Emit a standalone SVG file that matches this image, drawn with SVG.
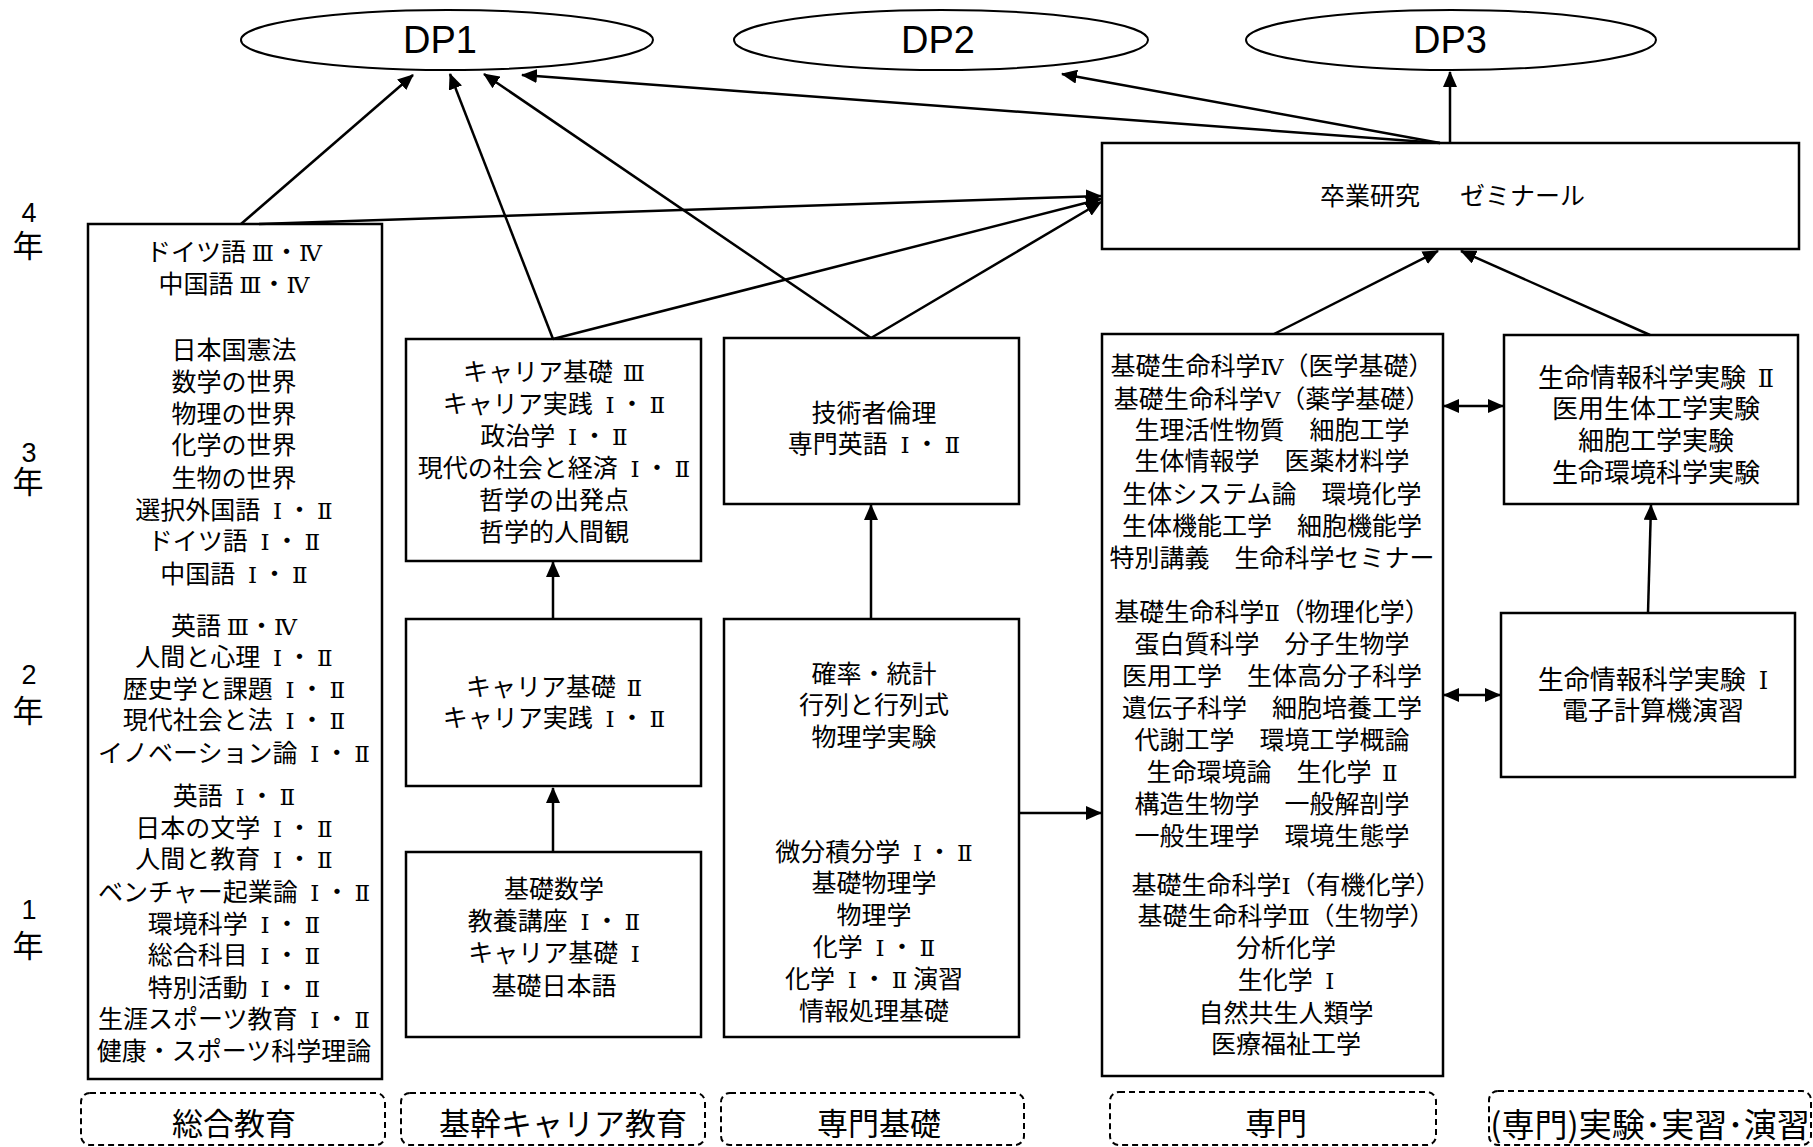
<svg xmlns="http://www.w3.org/2000/svg" width="1813" height="1147" viewBox="0 0 1813 1147">
<style>
text{font-family:"Noto Sans CJK JP","Noto Sans",sans-serif;fill:#000;text-anchor:middle}
.b{font-size:25px}
.j{font-size:26px}
.r{font-family:"DejaVu Serif","Liberation Serif","Noto Sans CJK JP",serif;font-size:0.92em}
.dp{font-family:"Liberation Sans",Arial,sans-serif;font-size:38px}
.yr{font-family:"Liberation Sans",Arial,sans-serif;font-size:27px}
.nen{font-size:31px}
.lab{font-size:31px}
.box{fill:#fff;stroke:#000;stroke-width:2.5}
.ell{fill:#fff;stroke:#000;stroke-width:2}
.dash{fill:none;stroke:#000;stroke-width:2;stroke-dasharray:6 4}
.c line{stroke:#000;stroke-width:2.5;fill:none}
</style>
<defs>
<marker id="ah" markerUnits="userSpaceOnUse" markerWidth="16" markerHeight="14" refX="15" refY="7" orient="auto-start-reverse"><path d="M0,0 L16,7 L0,14 z" fill="#000"/></marker>
</defs>
<rect width="1813" height="1147" fill="#fff"/>

<g id="years">
<text><tspan class="yr" x="29" y="222">4</tspan><tspan class="nen" x="28" y="257">年</tspan></text>
<text><tspan class="yr" x="29" y="462">3</tspan><tspan class="nen" x="28" y="493">年</tspan></text>
<text><tspan class="yr" x="29" y="684">2</tspan><tspan class="nen" x="28" y="722">年</tspan></text>
<text><tspan class="yr" x="29" y="919">1</tspan><tspan class="nen" x="28" y="957">年</tspan></text>
</g>

<g id="dp1"><ellipse class="ell" cx="447" cy="40" rx="206" ry="30"/><text class="dp" x="440" y="53">DP1</text></g>
<g id="dp2"><ellipse class="ell" cx="941" cy="40" rx="207" ry="30"/><text class="dp" x="938" y="53">DP2</text></g>
<g id="dp3"><ellipse class="ell" cx="1451" cy="40" rx="205" ry="30"/><text class="dp" x="1450" y="53">DP3</text></g>

<g id="sotsugyo"><rect class="box" x="1102" y="143" width="697" height="106"/>
<text style="font-size:25px;text-anchor:start" x="1320" y="205">卒業研究</text>
<text style="font-size:25px;text-anchor:start" x="1460" y="205">ゼミナール</text></g>

<g id="sogo"><rect class="box" x="88" y="224" width="294" height="855"/>
<text class="b" x="234" y="261">ドイツ語 <tspan class="r">Ⅲ</tspan>・<tspan class="r">Ⅳ</tspan></text>
<text class="b" x="234" y="293">中国語 <tspan class="r">Ⅲ</tspan>・<tspan class="r">Ⅳ</tspan></text>
<text class="b" x="234" y="359">日本国憲法</text>
<text class="b" x="234" y="391">数学の世界</text>
<text class="b" x="234" y="423">物理の世界</text>
<text class="b" x="234" y="454">化学の世界</text>
<text class="b" x="234" y="487">生物の世界</text>
<text class="b" x="234" y="519">選択外国語 <tspan class="r" dx="7">Ⅰ</tspan><tspan dx="5">・</tspan><tspan class="r" dx="5">Ⅱ</tspan></text>
<text class="b" x="234" y="550">ドイツ語 <tspan class="r" dx="7">Ⅰ</tspan><tspan dx="5">・</tspan><tspan class="r" dx="5">Ⅱ</tspan></text>
<text class="b" x="234" y="583">中国語 <tspan class="r" dx="7">Ⅰ</tspan><tspan dx="5">・</tspan><tspan class="r" dx="5">Ⅱ</tspan></text>
<text class="b" x="234" y="635">英語 <tspan class="r">Ⅲ</tspan>・<tspan class="r">Ⅳ</tspan></text>
<text class="b" x="234" y="666">人間と心理 <tspan class="r" dx="7">Ⅰ</tspan><tspan dx="5">・</tspan><tspan class="r" dx="5">Ⅱ</tspan></text>
<text class="b" x="234" y="698">歴史学と課題 <tspan class="r" dx="7">Ⅰ</tspan><tspan dx="5">・</tspan><tspan class="r" dx="5">Ⅱ</tspan></text>
<text class="b" x="234" y="729">現代社会と法 <tspan class="r" dx="7">Ⅰ</tspan><tspan dx="5">・</tspan><tspan class="r" dx="5">Ⅱ</tspan></text>
<text class="b" x="234" y="762">イノベーション論 <tspan class="r" dx="7">Ⅰ</tspan><tspan dx="5">・</tspan><tspan class="r" dx="5">Ⅱ</tspan></text>
<text class="b" x="234" y="805">英語 <tspan class="r" dx="7">Ⅰ</tspan><tspan dx="5">・</tspan><tspan class="r" dx="5">Ⅱ</tspan></text>
<text class="b" x="234" y="837">日本の文学 <tspan class="r" dx="7">Ⅰ</tspan><tspan dx="5">・</tspan><tspan class="r" dx="5">Ⅱ</tspan></text>
<text class="b" x="234" y="868">人間と教育 <tspan class="r" dx="7">Ⅰ</tspan><tspan dx="5">・</tspan><tspan class="r" dx="5">Ⅱ</tspan></text>
<text class="b" x="234" y="901">ベンチャー起業論 <tspan class="r" dx="7">Ⅰ</tspan><tspan dx="5">・</tspan><tspan class="r" dx="5">Ⅱ</tspan></text>
<text class="b" x="234" y="933">環境科学 <tspan class="r" dx="7">Ⅰ</tspan><tspan dx="5">・</tspan><tspan class="r" dx="5">Ⅱ</tspan></text>
<text class="b" x="234" y="964">総合科目 <tspan class="r" dx="7">Ⅰ</tspan><tspan dx="5">・</tspan><tspan class="r" dx="5">Ⅱ</tspan></text>
<text class="b" x="234" y="997">特別活動 <tspan class="r" dx="7">Ⅰ</tspan><tspan dx="5">・</tspan><tspan class="r" dx="5">Ⅱ</tspan></text>
<text class="b" x="234" y="1028">生涯スポーツ教育 <tspan class="r" dx="7">Ⅰ</tspan><tspan dx="5">・</tspan><tspan class="r" dx="5">Ⅱ</tspan></text>
<text class="b" x="234" y="1060">健康・スポーツ科学理論</text>
</g>

<g id="kikan3"><rect class="box" x="406" y="339" width="295" height="222"/>
<text class="b" x="554" y="381">キャリア基礎 <tspan class="r" dx="4">Ⅲ</tspan></text>
<text class="b" x="554" y="413">キャリア実践 <tspan class="r" dx="7">Ⅰ</tspan><tspan dx="5">・</tspan><tspan class="r" dx="5">Ⅱ</tspan></text>
<text class="b" x="554" y="445">政治学 <tspan class="r" dx="7">Ⅰ</tspan><tspan dx="5">・</tspan><tspan class="r" dx="5">Ⅱ</tspan></text>
<text class="b" x="554" y="477">現代の社会と経済 <tspan class="r" dx="7">Ⅰ</tspan><tspan dx="5">・</tspan><tspan class="r" dx="5">Ⅱ</tspan></text>
<text class="b" x="554" y="509">哲学の出発点</text>
<text class="b" x="554" y="541">哲学的人間観</text>
</g>
<g id="kikan2"><rect class="box" x="406" y="619" width="295" height="167"/>
<text class="b" x="554" y="696">キャリア基礎 <tspan class="r" dx="5">Ⅱ</tspan></text>
<text class="b" x="554" y="727">キャリア実践 <tspan class="r" dx="7">Ⅰ</tspan><tspan dx="5">・</tspan><tspan class="r" dx="5">Ⅱ</tspan></text>
</g>
<g id="kikan1"><rect class="box" x="406" y="852" width="295" height="185"/>
<text class="b" x="554" y="898">基礎数学</text>
<text class="b" x="554" y="930">教養講座 <tspan class="r" dx="7">Ⅰ</tspan><tspan dx="5">・</tspan><tspan class="r" dx="5">Ⅱ</tspan></text>
<text class="b" x="554" y="962">キャリア基礎 <tspan class="r" dx="7">Ⅰ</tspan></text>
<text class="b" x="554" y="995">基礎日本語</text>
</g>

<g id="senmonkiso3"><rect class="box" x="724" y="338" width="295" height="166"/>
<text class="b" x="874" y="422">技術者倫理</text>
<text class="b" x="874" y="453">専門英語 <tspan class="r" dx="7">Ⅰ</tspan><tspan dx="5">・</tspan><tspan class="r" dx="5">Ⅱ</tspan></text>
</g>
<g id="senmonkiso1"><rect class="box" x="724" y="619" width="295" height="418"/>
<text class="b" x="874" y="683">確率・統計</text>
<text class="b" x="874" y="714">行列と行列式</text>
<text class="b" x="874" y="746">物理学実験</text>
<text class="b" x="874" y="861">微分積分学 <tspan class="r" dx="7">Ⅰ</tspan><tspan dx="5">・</tspan><tspan class="r" dx="5">Ⅱ</tspan></text>
<text class="b" x="874" y="892">基礎物理学</text>
<text class="b" x="874" y="924">物理学</text>
<text class="b" x="874" y="956">化学 <tspan class="r" dx="7">Ⅰ</tspan><tspan dx="5">・</tspan><tspan class="r" dx="5">Ⅱ</tspan></text>
<text class="b" x="874" y="988">化学 <tspan class="r" dx="7">Ⅰ</tspan><tspan dx="5">・</tspan><tspan class="r" dx="5">Ⅱ</tspan> 演習</text>
<text class="b" x="874" y="1020">情報処理基礎</text>
</g>

<g id="senmon"><rect class="box" x="1102" y="334" width="341" height="742"/>
<text class="b" x="1272" y="375">基礎生命科学<tspan class="r">Ⅳ</tspan>（医学基礎）</text>
<text class="b" x="1272" y="408">基礎生命科学<tspan class="r">Ⅴ</tspan>（薬学基礎）</text>
<text class="b" x="1272" y="439">生理活性物質　細胞工学</text>
<text class="b" x="1272" y="470">生体情報学　医薬材料学</text>
<text class="b" x="1272" y="503">生体システム論　環境化学</text>
<text class="b" x="1272" y="535">生体機能工学　細胞機能学</text>
<text class="b" x="1272" y="567">特別講義　生命科学セミナー</text>
<text class="b" x="1272" y="621">基礎生命科学<tspan class="r">Ⅱ</tspan>（物理化学）</text>
<text class="b" x="1272" y="653">蛋白質科学　分子生物学</text>
<text class="b" x="1272" y="685">医用工学　生体高分子科学</text>
<text class="b" x="1272" y="717">遺伝子科学　細胞培養工学</text>
<text class="b" x="1272" y="749">代謝工学　環境工学概論</text>
<text class="b" x="1272" y="781">生命環境論　生化学 <tspan class="r" dx="5">Ⅱ</tspan></text>
<text class="b" x="1272" y="813">構造生物学　一般解剖学</text>
<text class="b" x="1272" y="845">一般生理学　環境生態学</text>
<text class="b" x="1286" y="894">基礎生命科学<tspan class="r">Ⅰ</tspan>（有機化学）</text>
<text class="b" x="1286" y="925">基礎生命科学<tspan class="r">Ⅲ</tspan>（生物学）</text>
<text class="b" x="1286" y="957">分析化学</text>
<text class="b" x="1286" y="989">生化学 <tspan class="r" dx="7">Ⅰ</tspan></text>
<text class="b" x="1286" y="1022">自然共生人類学</text>
<text class="b" x="1286" y="1053">医療福祉工学</text>
</g>

<g id="jikken2"><rect class="box" x="1504" y="335" width="294" height="169"/>
<text class="j" x="1656" y="387">生命情報科学実験 <tspan class="r" dx="6">Ⅱ</tspan></text>
<text class="j" x="1656" y="418">医用生体工学実験</text>
<text class="j" x="1656" y="450">細胞工学実験</text>
<text class="j" x="1656" y="482">生命環境科学実験</text>
</g>
<g id="jikken1"><rect class="box" x="1501" y="613" width="294" height="164"/>
<text class="j" x="1653" y="689">生命情報科学実験 <tspan class="r" dx="7">Ⅰ</tspan></text>
<text class="j" x="1653" y="720">電子計算機演習</text>
</g>

<g id="labels">
<rect class="dash" x="81" y="1093" width="304" height="52" rx="9"/><text class="lab" x="234" y="1135">総合教育</text>
<rect class="dash" x="401" y="1093" width="304" height="52" rx="9"/><text class="lab" x="563" y="1135">基幹キャリア教育</text>
<rect class="dash" x="721" y="1093" width="303" height="52" rx="9"/><text class="lab" x="879" y="1135">専門基礎</text>
<rect class="dash" x="1110" y="1092" width="326" height="53" rx="9"/><text class="lab" x="1276" y="1135">専門</text>
<rect class="dash" x="1489" y="1091" width="322" height="54" rx="9"/><text class="lab" style="font-size:33px" x="1650" y="1137">(専門)実験･実習･演習</text>
</g>

<g id="connectors" class="c">
<line x1="241" y1="224" x2="413" y2="75" marker-end="url(#ah)"/>
<line x1="259" y1="224" x2="1101" y2="196" marker-end="url(#ah)"/>
<line x1="553" y1="339" x2="450" y2="74" marker-end="url(#ah)"/>
<line x1="553" y1="339" x2="1101" y2="199" marker-end="url(#ah)"/>
<line x1="871" y1="338" x2="484" y2="74" marker-end="url(#ah)"/>
<line x1="871" y1="338" x2="1101" y2="202" marker-end="url(#ah)"/>
<line x1="1440" y1="143" x2="522" y2="75" marker-end="url(#ah)"/>
<line x1="1440" y1="143" x2="1062" y2="74" marker-end="url(#ah)"/>
<line x1="1450" y1="143" x2="1450" y2="72" marker-end="url(#ah)"/>
<line x1="1274" y1="334" x2="1438" y2="251" marker-end="url(#ah)"/>
<line x1="1650" y1="335" x2="1461" y2="251" marker-end="url(#ah)"/>
<line x1="553" y1="852" x2="553" y2="788" marker-end="url(#ah)"/>
<line x1="553" y1="619" x2="553" y2="562" marker-end="url(#ah)"/>
<line x1="871" y1="619" x2="871" y2="505" marker-end="url(#ah)"/>
<line x1="1648" y1="613" x2="1651" y2="505" marker-end="url(#ah)"/>
<line x1="1019" y1="813" x2="1101" y2="813" marker-end="url(#ah)"/>
<line x1="1444" y1="406" x2="1503" y2="406" marker-start="url(#ah)" marker-end="url(#ah)"/>
<line x1="1444" y1="695" x2="1500" y2="695" marker-start="url(#ah)" marker-end="url(#ah)"/>
</g>
</svg>
